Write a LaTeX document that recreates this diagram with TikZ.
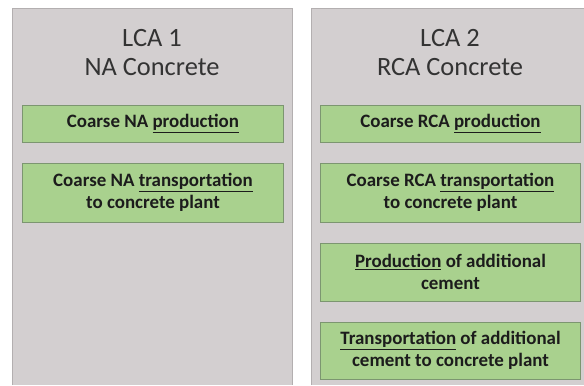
\documentclass[tikz,border=0pt]{standalone}
\usepackage{fontspec}
\setmainfont{Carlito}
\usetikzlibrary{positioning}
\definecolor{panelgray}{HTML}{D3CFD0}
\definecolor{panelline}{HTML}{B3AFB0}
\definecolor{boxgreen}{HTML}{A9D18E}
\definecolor{boxline}{HTML}{7C9670}
\definecolor{txt}{HTML}{1C1C1C}

\begin{document}
\begin{tikzpicture}[x=1bp, y=-1bp,
    title/.style={font=\fontsize{26.5}{30}\selectfont, text=txt!90, align=center},
    stage/.style={fill=boxgreen, draw=boxline, line width=1bp, minimum width=260bp,
        inner sep=0pt, align=center, text=txt, font=\bfseries\fontsize{19}{22}\selectfont},
    node distance=20bp]
    \useasboundingbox (0,0) rectangle (584,385);

    % Hai cột LCA
    \fill[panelgray] (12,8) rectangle (292,385);
    \draw[panelline, line width=1bp] (12,385) -- (12,8) -- (292,8) -- (292,385);
    \fill[panelgray] (311,8) rectangle (584,385);
    \draw[panelline, line width=1bp] (311,385) -- (311,8) -- (584,8);

    % Tiêu đề
    \node[title] (lca1) at (152,52.5) {LCA 1\\NA Concrete};
    \node[title] (lca2) at (450,52.5) {LCA 2\\RCA Concrete};

    % LCA 1: cốt liệu tự nhiên
    \node[stage, minimum height=37bp] (naprod) at (153,123.5) {Coarse NA \underline{production}};
    \node[stage, minimum height=59bp, below=of naprod] (natrans)
        {Coarse NA \underline{transportation}\\to concrete plant};

    % LCA 2: cốt liệu tái chế
    \node[stage, minimum height=37bp] (rcaprod) at (450.5,123.5) {Coarse RCA \underline{production}};
    \node[stage, minimum height=59bp, below=of rcaprod] (rcatrans)
        {Coarse RCA \underline{transportation}\\to concrete plant};
    \node[stage, minimum height=58bp, below=of rcatrans] (cemprod)
        {\underline{Production} of additional\\cement};
    \node[stage, minimum height=57bp, below=of cemprod] (cemtrans)
        {\underline{Transportation} of additional\\cement to concrete plant};
\end{tikzpicture}
\end{document}
